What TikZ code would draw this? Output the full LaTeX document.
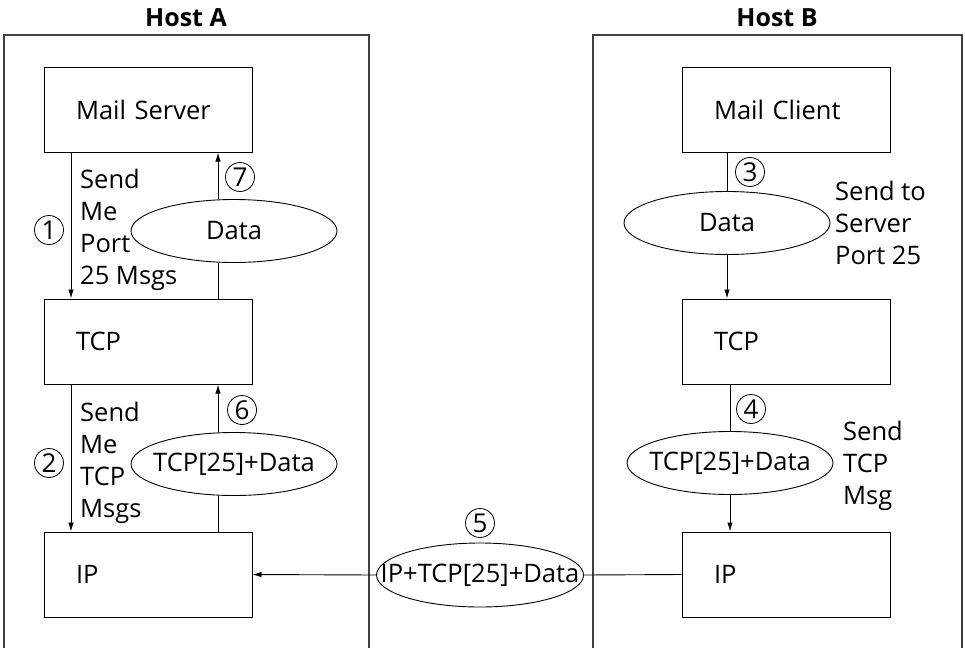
\documentclass[tikz,border=0pt]{standalone}
\usepackage{fontspec}
\setmainfont{Open Sans}
\usetikzlibrary{shapes.geometric,arrows.meta}
\begin{document}
\begin{tikzpicture}[x=1pt,y=-1pt,
  every node/.style={font=\fontsize{25.5}{32}\selectfont},
  layerbox/.style={draw,line width=1pt,rectangle,minimum width=208pt,minimum height=85pt,
     text width=144pt,inner xsep=32pt,inner ysep=0pt,align=left},
  msg/.style={draw,line width=0.9pt,ellipse,minimum width=206pt,minimum height=63pt,inner xsep=-45pt,inner ysep=0pt},
  num/.style={draw,line width=0.8pt,circle,minimum size=29pt,inner sep=0pt,font=\fontsize{26}{28}\selectfont},
  lbl/.style={anchor=west,align=left,inner sep=0pt},
  title/.style={font=\fontsize{25}{28}\selectfont\bfseries},
  host/.style={draw=black!75,line width=1.3pt},
  arr/.style={line width=0.9pt,-{Latex[length=9pt,width=5.5pt]}},
  ln/.style={line width=0.9pt}]
\useasboundingbox (0,0) rectangle (965,648);
% hosts
\draw[host] (4,648) -- (4,35) -- (369,35) -- (369,648);
\draw[host] (593,648) -- (593,35) -- (962,35) -- (962,648);
\node[title] (titleA) at (186,18) {Host A};
\node[title] (titleB) at (777,18) {Host B};
% boxes
\node[layerbox] (ms) at (148,109.5) {Mail Server};
\node[layerbox] (tcpA) at (148,341.5) {TCP};
\node[layerbox] (ipA) at (148,574.5) {IP};
\node[layerbox] (mc) at (786,109.5) {Mail Client};
\node[layerbox] (tcpB) at (786,341.5) {TCP};
\node[layerbox] (ipB) at (786,574.5) {IP};
% messages
\node[msg] (dataA) at (234,231) {Data};
\node[msg] (tcpdA) at (234,464) {TCP[25]+Data};
\node[msg] (dataB) at (727,223) {Data};
\node[msg] (tcpdB) at (730,463) {TCP[25]+Data};
\node[msg,minimum width=207pt,minimum height=64pt] (ipd) at (480,575) {IP+TCP[25]+Data};
% guide coordinates
\coordinate (xA1) at (71,0);
\coordinate (xA2) at (218,0);
% connectors host A
\draw[arr] (xA1 |- ms.south) -- (xA1 |- tcpA.north);
\draw[ln] (xA2 |- tcpA.north) -- (xA2 |- dataA.south);
\draw[arr] (xA2 |- dataA.north) -- (xA2 |- ms.south);
\draw[arr] (xA1 |- tcpA.south) -- (xA1 |- ipA.north);
\draw[ln] (xA2 |- ipA.north) -- (xA2 |- tcpdA.south);
\draw[arr] (xA2 |- tcpdA.north) -- (xA2 |- tcpA.south);
% connectors host B
\draw[ln] (dataB.north |- mc.south) -- (dataB.north);
\draw[arr] (dataB.south) -- (dataB.south |- tcpB.north);
\draw[ln] (tcpdB.north |- tcpB.south) -- (tcpdB.north);
\draw[arr] (tcpdB.south) -- (tcpdB.south |- ipB.north);
% network
\draw[ln] (ipB.west) -- (ipd.east);
\draw[arr] (ipd.west) -- (ipA.east);
% numbers
\node[num] (n1) at (49,230) {1};
\node[num] (n2) at (49,463) {2};
\node[num] (n3) at (750,172) {3};
\node[num] (n4) at (751,409) {4};
\node[num] (n5) at (480,523) {5};
\node[num] (n6) at (242,410) {6};
\node[num] (n7) at (240,177) {7};
% labels
\node[lbl] (l1) at (80,230) {Send\\Me\\Port\\25 Msgs};
\node[lbl] (l2) at (80,463) {Send\\Me\\TCP\\Msgs};
\node[lbl] (l3) at (835,223) {Send to\\Server\\Port 25};
\node[lbl] (l4) at (843,466) {Send\\TCP\\Msg};
\end{tikzpicture}
\end{document}
